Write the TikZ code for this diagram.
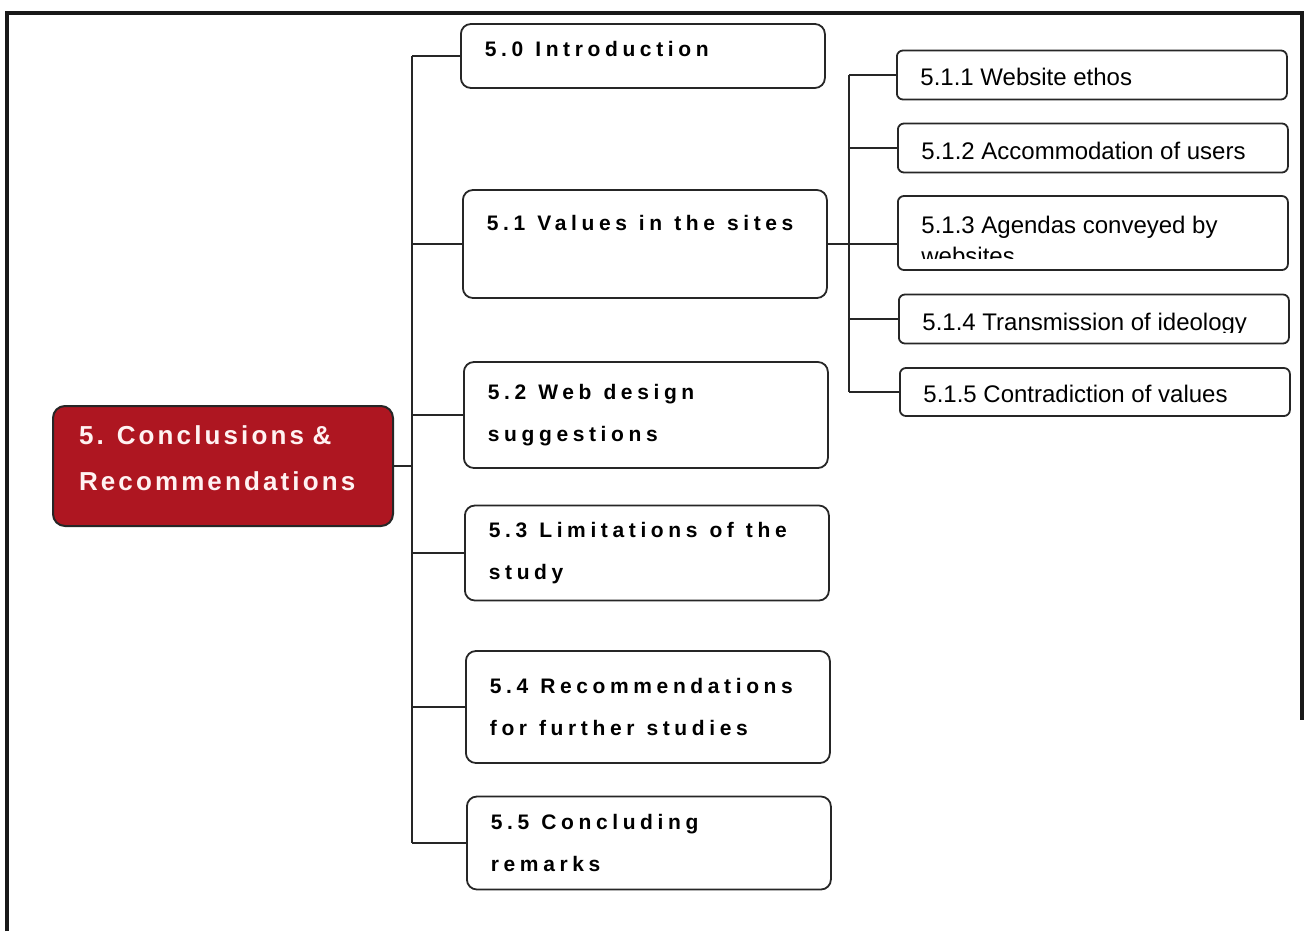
\documentclass[tikz,border=0pt]{standalone}
\usepackage{fontspec}
\setmainfont{Liberation Sans}
\newfontfamily\headfont[LetterSpace=22]{Liberation Sans}
\newfontfamily\rootfont[LetterSpace=12, WordSpace=1.2]{Liberation Sans}
% wider gap between the spaced-out words
\newcommand\wsp{\ \hspace{2.5pt}}
\definecolor{rootred}{RGB}{174,22,33}

\begin{document}
\begin{tikzpicture}[
            x=0.5pt, y=-0.5pt,
            % Thick frame round the chart
            frame/.style={line width=2pt, black!90},
            % Style for the red chapter box
            rootbox/.style={draw=black!85, line width=1pt, fill=rootred, rounded corners=6pt,
                text=white!95!red, font=\rootfont\bfseries\fontsize{13pt}{23pt}\selectfont,
                align=left, text width=144pt, inner xsep=13pt, minimum height=60pt,
                text depth=31pt, anchor=west},
            % Style for the section boxes
            topic/.style={draw=black!85, line width=0.9pt, rounded corners=5pt, anchor=west,
                font=\headfont\bfseries\fontsize{10.5pt}{21pt}\selectfont,
                align=left, text width=158pt, inner xsep=12pt},
            % Style for the boxes of section 5.1
            subtopic/.style={draw=black!85, line width=0.9pt, rounded corners=3pt, anchor=west,
                minimum width=195pt, inner sep=0pt},
            subtext/.style={font=\fontsize{12pt}{15.5pt}\selectfont, align=left, inner sep=0pt},
            link/.style={line width=0.9pt, black!85}
        ]
        \useasboundingbox (0,0) rectangle (1305,931);
        \draw[frame] (7,931) -- (7,13) -- (1302,13) -- (1302,720);

        % --- Chapter box ---
        \node[rootbox] (root) at (52,466) {5. Conclusions \&\\Recommendations};

        % --- Middle column: the sections ---
        \node[topic, minimum height=32pt, text depth=7.5pt] (t50) at (460,56) {5.0\wsp Introduction};
        \foreach \n/\x/\y/\h/\txt in {1/462/244/54/{5.1\wsp Values\wsp in\wsp the\wsp sites\\\mbox{}},
                2/463/415/53/{5.2\wsp Web\wsp design\\suggestions},
                3/464/553/47.5/{5.3\wsp Limitations\wsp of\wsp the\\study},
                4/465/707/56/{5.4\wsp Recommendations\\for\wsp further\wsp studies},
                5/466/843/46.5/{5.5\wsp Concluding\\remarks}} {
            \node[topic, minimum height=\h pt] (t5\n) at (\x,\y) {\txt};
        }

        % --- Right column: the parts of 5.1 ---
        \foreach \n/\x/\y/\h in {1/896/75/24.5, 2/897/148/24.5, 3/897/233/37,
                4/898/319/24.5, 5/899/392/24} {
            \node[subtopic, minimum height=\h pt] (s51\n) at (\x,\y) {};
        }
        \node[subtext, anchor=base west] (s511txt) at (920,86) {5.1.1 Website ethos};
        \node[subtext, anchor=base west] (s512txt) at (921,159) {5.1.2 Accommodation of users};
        % the two texts that the boxes cut off
        \begin{scope}
            \clip (s513.north west) rectangle ([yshift=6pt]s513.south east);
            \node[subtext, anchor=base west] (s513txt) at (921,264) {5.1.3 Agendas conveyed by\\websites};
        \end{scope}
        \begin{scope}
            \clip (s514.north west) rectangle ([yshift=6pt]s514.south east);
            \node[subtext, anchor=base west] (s514txt) at (922,330) {5.1.4 Transmission of ideology};
        \end{scope}
        \node[subtext, anchor=base west] (s515txt) at (923,402) {5.1.5 Contradiction of values};

        % --- Connectors ---
        \coordinate (hub) at (412,466);
        \coordinate (subhub) at (849,244);
        \draw[link] (root.east) -- (root.east -| hub);
        \draw[link] (hub |- t50.west) -- (hub |- t55.west);
        \foreach \n in {0,...,5} {
            \draw[link] (hub |- t5\n.west) -- (t5\n.west);
        }
        \draw[link] (subhub |- s511.west) -- (subhub |- s515.west);
        \draw[link] (t51.east) -- (t51.east -| s513.west);
        \foreach \n in {1,2,4,5} {
            \draw[link] (subhub |- s51\n.west) -- (s51\n.west);
        }

        \end{tikzpicture}
\end{document}
